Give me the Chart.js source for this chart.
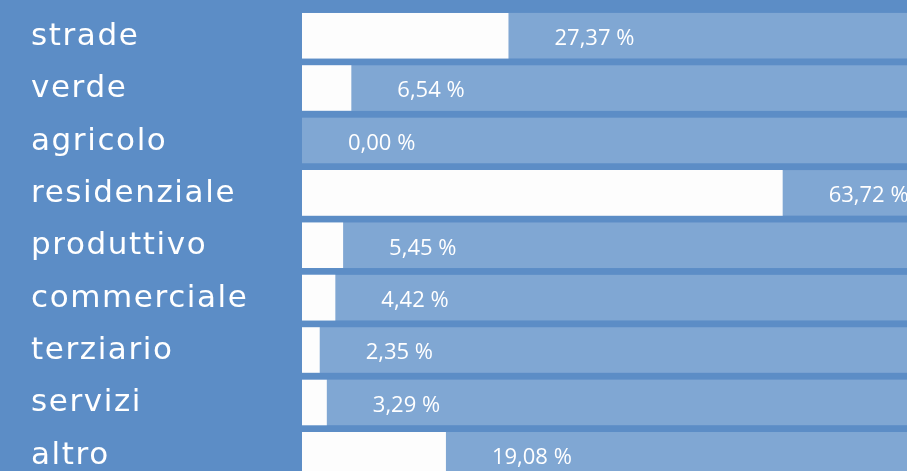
<!DOCTYPE html>
<html>
<head>
<meta charset="utf-8">
<script src="https://cdn.jsdelivr.net/npm/chart.js@4.4.0/dist/chart.umd.min.js"></script>
<style>
    html, body { margin: 0; padding: 0; background: #5c8dc6; overflow: hidden; }
    #wrap { width: 907px; height: 482px; }
</style>
</head>
<body>
<div id="wrap"><canvas id="chart" width="907" height="482"></canvas></div>
<script>
// data
const categories = ['strade', 'verde', 'agricolo', 'residenziale', 'produttivo',
    'commerciale', 'terziario', 'servizi', 'altro'];
const shares = [27.37, 6.54, 0.00, 63.72, 5.45, 4.42, 2.35, 3.29, 19.08];

const BAND = '#80a7d3';

// light band behind each row, full width of the plot area
const rowBands = {
    id: 'rowBands',
    beforeDatasetsDraw(chart) {
        const { ctx, chartArea } = chart;
        const meta = chart.getDatasetMeta(0);
        ctx.save();
        ctx.fillStyle = BAND;
        meta.data.forEach((bar) => {
            const h = bar.height;
            ctx.fillRect(chartArea.left, bar.y - h / 2, chartArea.right - chartArea.left, h);
        });
        ctx.restore();
    }
};

// category names, drawn here so the wide tracking of the original can be kept
const categoryLabels = {
    id: 'categoryLabels',
    afterDraw(chart) {
        const { ctx } = chart;
        const y = chart.scales.y;
        ctx.save();
        ctx.fillStyle = '#ffffff';
        ctx.font = '31px "DejaVu Sans", sans-serif';
        ctx.letterSpacing = '1.6px';
        ctx.textBaseline = 'middle';
        ctx.textAlign = 'left';
        categories.forEach((name, i) => {
            ctx.fillText(name, y.left + 1, y.getPixelForTick(i) + 1);
        });
        ctx.restore();
    }
};

// "27,37 %" style labels after each bar
const valueLabels = {
    id: 'valueLabels',
    afterDatasetsDraw(chart) {
        const { ctx } = chart;
        const meta = chart.getDatasetMeta(0);
        ctx.save();
        ctx.fillStyle = '#ffffff';
        ctx.font = '22px "Open Sans", sans-serif';
        ctx.textBaseline = 'middle';
        ctx.textAlign = 'left';
        meta.data.forEach((bar, i) => {
            const txt = shares[i].toFixed(2).replace('.', ',') + ' %';
            ctx.fillText(txt, bar.x + 46, bar.y + 3);
        });
        ctx.restore();
    }
};

new Chart(document.getElementById('chart'), {
    type: 'bar',
    data: {
        labels: categories,
        datasets: [{
            data: shares,
            backgroundColor: '#fdfdfd',
            borderWidth: 0,
            barPercentage: 1,
            categoryPercentage: 0.87
        }]
    },
    options: {
        indexAxis: 'y',
        responsive: false,
        animation: false,
        layout: { padding: { left: 30, top: 9.5, right: 0, bottom: 1 } },
        plugins: { legend: { display: false }, tooltip: { enabled: false } },
        scales: {
            x: {
                display: false,
                min: 0,
                max: 80.2
            },
            y: {
                grid: { display: false },
                border: { display: false },
                afterFit(scale) {
                    scale.width = 272;
                    scale.paddingTop = 0;
                    scale.paddingBottom = 0;
                },
                ticks: { display: false }
            }
        }
    },
    plugins: [rowBands, valueLabels, categoryLabels]
});
</script>
</body>
</html>
